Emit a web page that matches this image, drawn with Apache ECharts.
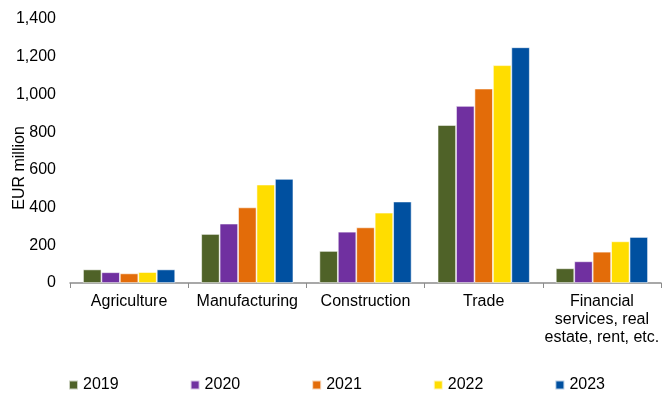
<!DOCTYPE html>
<html>
<head>
<meta charset="utf-8">
<script src="https://cdn.jsdelivr.net/npm/echarts@6/dist/echarts.min.js"></script>
<style>
  html, body { margin: 0; padding: 0; background: #fff; }
  #chart { width: 664px; height: 398px; }
</style>
</head>
<body>
<div id="chart"></div>
<script>
// Sectors and yearly values (EUR million)
const categories = ['Agriculture', 'Manufacturing', 'Construction', 'Trade', 'Financial\nservices, real\nestate, rent, etc.'];
const years = ['2019', '2020', '2021', '2022', '2023'];
const v2019 = [72, 260, 170, 838, 78];
const v2020 = [57, 315, 272, 939, 115];
const v2021 = [51, 401, 295, 1031, 166];
const v2022 = [58, 522, 373, 1155, 221];
const v2023 = [72, 552, 432, 1250, 244];
const yTicks = [0, 200, 400, 600, 800, 1000, 1200, 1400];

const colors = ['#4F6228', '#7030A0', '#E36C09', '#FFDD00', '#0050A0'];
const seriesValues = [v2019, v2020, v2021, v2022, v2023];

const chart = echarts.init(document.getElementById('chart'));
const font = 'Liberation Sans, Arial, sans-serif';
const fs = 16;

chart.setOption({
  animation: false,
  color: colors,
  grid: { left: 70, right: 3, top: 19, bottom: 115, containLabel: false, outerBoundsMode: 'none' },
  legend: {
    top: 372,
    left: 63,
    itemWidth: 9,
    itemHeight: 9,
    itemGap: 71,
    icon: 'rect',
    textStyle: { fontFamily: font, fontSize: fs, color: '#000' },
    data: years
  },
  graphic: [{
    type: 'text',
    x: 20,
    y: 168,
    rotation: Math.PI / 2,
    style: {
      text: 'EUR million',
      fontFamily: font,
      fontSize: fs,
      fill: '#000',
      align: 'center',
      verticalAlign: 'middle'
    }
  }],
  xAxis: {
    type: 'category',
    data: categories,
    boundaryGap: true,
    axisLine: { lineStyle: { color: '#8c8c8c', width: 1.5 } },
    axisTick: { show: true, length: 5, lineStyle: { color: '#8c8c8c' } },
    axisLabel: { fontFamily: font, fontSize: fs, color: '#000', margin: 10, lineHeight: 18, interval: 0 }
  },
  yAxis: {
    type: 'value',
    min: yTicks[0],
    max: yTicks[yTicks.length - 1],
    interval: 200,
    axisLine: { show: false },
    axisTick: { show: false },
    splitLine: { show: false },
    axisLabel: {
      fontFamily: font, fontSize: fs, color: '#000', margin: 14,
      formatter: v => v.toLocaleString('en-US')
    }
  },
  series: years.map((y, i) => ({
    name: y,
    type: 'bar',
    data: seriesValues[i],
    barGap: '0%',
    barCategoryGap: '22%',
    itemStyle: { color: colors[i], borderColor: 'rgba(255,255,255,0.7)', borderWidth: 0.8 }
  }))
});
</script>
</body>
</html>
